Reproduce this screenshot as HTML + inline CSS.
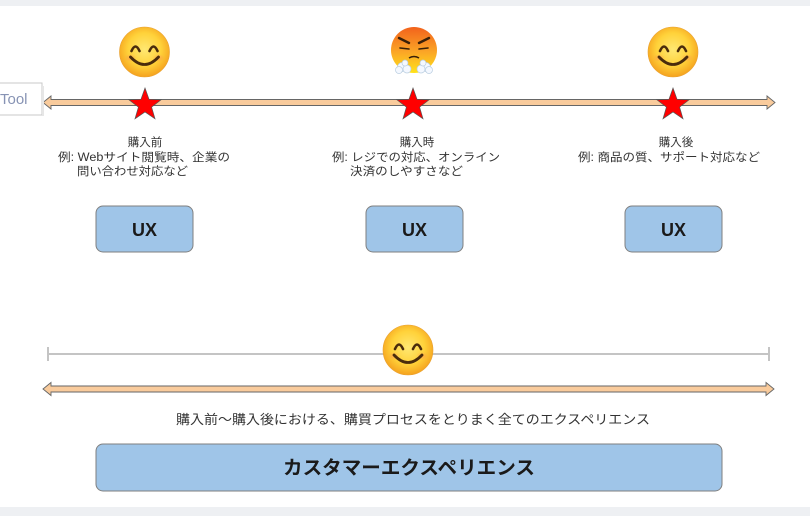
<!DOCTYPE html>
<html><head><meta charset="utf-8"><style>
html,body{margin:0;padding:0;background:#fff;}
svg{display:block;}
text{font-family:"Liberation Sans","Noto Sans CJK JP",sans-serif;}
</style></head><body>
<svg width="810" height="516" viewBox="0 0 810 516" xmlns="http://www.w3.org/2000/svg">
<defs>
<radialGradient id="smile" cx="50%" cy="45%" r="55%">
<stop offset="0" stop-color="#ffe873"/>
<stop offset="0.6" stop-color="#ffd23a"/>
<stop offset="1" stop-color="#f5a21e"/>
</radialGradient>
<linearGradient id="angry" x1="0" y1="0" x2="0" y2="1">
<stop offset="0" stop-color="#f2621c"/>
<stop offset="0.55" stop-color="#fba726"/>
<stop offset="1" stop-color="#ffe21a"/>
</linearGradient>
<radialGradient id="cheek" cx="50%" cy="50%" r="50%">
<stop offset="0" stop-color="#ff8a5a" stop-opacity="0.55"/>
<stop offset="1" stop-color="#ff8a5a" stop-opacity="0"/>
</radialGradient>
<g id="happy">
<circle r="25" fill="url(#smile)" stroke="#e8a030" stroke-width="0.6"/>
<ellipse cx="-14" cy="6" rx="6" ry="4" fill="url(#cheek)"/>
<ellipse cx="14" cy="6" rx="6" ry="4" fill="url(#cheek)"/>
<path d="M-13 -1 Q-9 -10 -5 -1" fill="none" stroke="#4a2c0c" stroke-width="2.6" stroke-linecap="round"/>
<path d="M5 -1 Q9 -10 13 -1" fill="none" stroke="#4a2c0c" stroke-width="2.6" stroke-linecap="round"/>
<path d="M-14 5 Q0 20 14 5" fill="none" stroke="#4a2c0c" stroke-width="2.8" stroke-linecap="round"/>
</g>
<polygon id="star" points="0,-17 4.06,-5.59 16.17,-5.25 6.57,2.14 10,13.75 0,6.9 -10,13.75 -6.57,2.14 -16.17,-5.25 -4.06,-5.59" fill="#ff0000" stroke="#555" stroke-width="0.7"/>
</defs>

<!-- top and bottom gray bands -->
<rect x="0" y="0" width="810" height="6" fill="#eef0f3"/>
<rect x="0" y="507" width="810" height="9" fill="#eef0f3"/>

<!-- emojis top -->
<use href="#happy" x="144.5" y="52"/>
<g transform="translate(414,50)">
<circle r="23" fill="url(#angry)"/>
<path d="M-15 -12 L-5 -7" stroke="#3a2008" stroke-width="2.4" stroke-linecap="round"/>
<path d="M15 -12 L5 -7" stroke="#3a2008" stroke-width="2.4" stroke-linecap="round"/>
<path d="M-14 -2 L-5 -1" stroke="#3a2008" stroke-width="1.6" stroke-linecap="round"/>
<path d="M14 -2 L5 -1" stroke="#3a2008" stroke-width="1.6" stroke-linecap="round"/>
<path d="M-5 8 Q0 5 5 8" fill="none" stroke="#3a2008" stroke-width="1.6"/>
<g fill="#f4f8ff" stroke="#b9cde0" stroke-width="0.7">
<circle cx="-12" cy="17" r="4.5"/><circle cx="-7" cy="19" r="4"/><circle cx="-15" cy="20" r="3.5"/><circle cx="-9" cy="13" r="3"/>
<circle cx="12" cy="17" r="4.5"/><circle cx="7" cy="19" r="4"/><circle cx="15" cy="20" r="3.5"/><circle cx="9" cy="13" r="3"/>
</g>
</g>
<use href="#happy" x="673" y="52"/>

<!-- top double arrow -->
<polygon points="43,102.5 51,96 51,99.5 767,99.5 767,96 775,102.5 767,109 767,105.5 51,105.5 51,109" fill="#f9cb9c" stroke="#666" stroke-width="0.9"/>

<!-- Tool box -->
<rect x="-2" y="83" width="44" height="32" fill="#fff" stroke="#c8c8c8" stroke-width="1"/>
<rect x="42" y="86" width="2" height="30" fill="#e6e6e6"/>
<text x="0" y="104" font-size="15" fill="#8793b4">Tool</text>

<!-- stars -->
<use href="#star" x="145" y="105"/>
<use href="#star" x="413" y="105"/>
<use href="#star" x="673" y="105"/>

<!-- labels -->
<g font-size="11.5" fill="#333">
<text x="145" y="146" text-anchor="middle">購入前</text>
<text x="58" y="161" textLength="172" lengthAdjust="spacingAndGlyphs">例: Webサイト閲覧時、企業の</text>
<text x="77" y="175" textLength="111" lengthAdjust="spacingAndGlyphs">問い合わせ対応など</text>

<text x="417" y="146" text-anchor="middle">購入時</text>
<text x="332" y="161" textLength="168" lengthAdjust="spacingAndGlyphs">例: レジでの対応、オンライン</text>
<text x="350" y="175" textLength="113" lengthAdjust="spacingAndGlyphs">決済のしやすさなど</text>

<text x="676" y="146" text-anchor="middle">購入後</text>
<text x="578" y="161" textLength="182" lengthAdjust="spacingAndGlyphs">例: 商品の質、サポート対応など</text>
</g>

<!-- UX boxes -->
<g fill="#9fc5e8" stroke="#7f7f7f" stroke-width="1">
<rect x="96" y="206" width="97" height="46" rx="7"/>
<rect x="366" y="206" width="97" height="46" rx="7"/>
<rect x="625" y="206" width="97" height="46" rx="7"/>
</g>
<g font-size="18" font-weight="bold" fill="#1a1a1a" text-anchor="middle">
<text x="144.5" y="236">UX</text>
<text x="414.5" y="236">UX</text>
<text x="673.5" y="236">UX</text>
</g>

<!-- gray timeline -->
<line x1="48" y1="354" x2="769" y2="354" stroke="#c4c4c4" stroke-width="2"/>
<line x1="48" y1="347" x2="48" y2="361" stroke="#c4c4c4" stroke-width="2"/>
<line x1="769" y1="347" x2="769" y2="361" stroke="#c4c4c4" stroke-width="2"/>
<use href="#happy" x="408" y="350"/>

<!-- bottom double arrow -->
<polygon points="43,389 51,382.5 51,386 766,386 766,382.5 774,389 766,395.5 766,392 51,392 51,395.5" fill="#f9cb9c" stroke="#666" stroke-width="0.9"/>

<text x="176" y="424" font-size="13" fill="#333" textLength="474" lengthAdjust="spacingAndGlyphs">購入前〜購入後における、購買プロセスをとりまく全てのエクスペリエンス</text>

<!-- big box -->
<rect x="96" y="444" width="626" height="47" rx="7" fill="#9fc5e8" stroke="#7f7f7f" stroke-width="1"/>
<text x="283" y="474" font-size="19" font-weight="bold" fill="#1a1a1a" textLength="252" lengthAdjust="spacingAndGlyphs">カスタマーエクスペリエンス</text>
</svg>
</body></html>
